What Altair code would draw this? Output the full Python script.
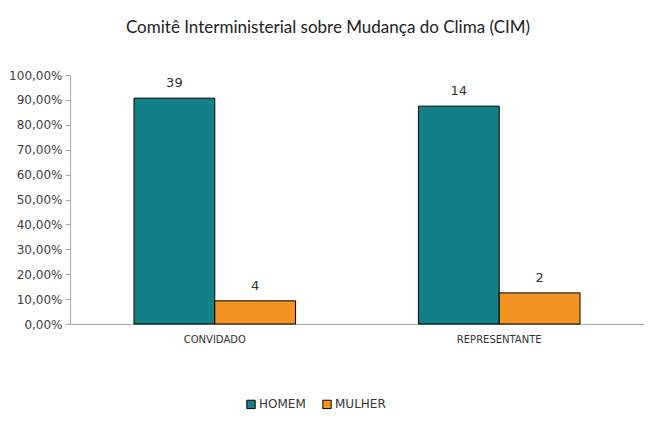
import altair as alt
import pandas as pd

categorias = ["CONVIDADO", "CONVIDADO", "REPRESENTANTE", "REPRESENTANTE"]
sexo = ["HOMEM", "MULHER", "HOMEM", "MULHER"]
percentual = [0.9070, 0.0930, 0.8750, 0.1250]
quantidade = [39, 4, 14, 2]

df = pd.DataFrame(
    {"categoria": categorias, "sexo": sexo, "pct": percentual, "n": quantidade}
)

cores = alt.Scale(domain=["HOMEM", "MULHER"], range=["#138087", "#F39322"])

x = alt.X(
    "categoria:N",
    title=None,
    scale=alt.Scale(paddingInner=0.432, paddingOuter=0.225),
    axis=alt.Axis(
        labelAngle=0,
        labelFontSize=10,
        labelColor="#333333",
        labelPadding=10,
        ticks=False,
        domainColor="#A6A6A6",
        labelFont="DejaVu Sans",
    ),
)
y = alt.Y(
    "pct:Q",
    title=None,
    scale=alt.Scale(domain=[0, 1]),
    axis=alt.Axis(
        values=[i / 10 for i in range(11)],
        labelExpr="replace(format(datum.value, '.2%'), '.', ',')",
        grid=False,
        labelFontSize=12,
        labelColor="#404040",
        labelFont="DejaVu Sans",
        domainColor="#A6A6A6",
        tickColor="#A6A6A6",
        tickSize=5,
        labelPadding=3,
    ),
)
xo = alt.XOffset("sexo:N", sort=["HOMEM", "MULHER"], scale=alt.Scale(paddingInner=0))

barras = (
    alt.Chart(df)
    .mark_bar(stroke="#000000", strokeWidth=1)
    .encode(
        x=x,
        xOffset=xo,
        y=y,
        color=alt.Color(
            "sexo:N",
            scale=cores,
            title=None,
            legend=alt.Legend(
                orient="none",
                legendX=175,
                legendY=323,
                direction="horizontal",
                symbolType="square",
                symbolSize=70,
                symbolStrokeColor="#000000",
                symbolStrokeWidth=1,
                labelFontSize=12,
                labelColor="#333333",
                labelFont="DejaVu Sans",
                columnPadding=14,
                labelOffset=2,
            ),
        ),
    )
)

rotulos = (
    alt.Chart(df)
    .mark_text(baseline="bottom", dy=-8, fontSize=13, color="#333333", font="DejaVu Sans")
    .encode(x=x, xOffset=xo, y=y, text="n:Q")
)

chart = (
    (barras + rotulos)
    .properties(
        width=574,
        height=249,
        autosize=alt.AutoSizeParams(type="none"),
        padding={"left": 62, "top": 67, "right": 4, "bottom": 95},
        title=alt.TitleParams(
            "Comitê Interministerial sobre Mudança do Clima (CIM)",
            anchor="middle",
            dx=-29,
            offset=32,
            fontSize=17,
            fontWeight="normal",
            font="Lato",
            color="#222222",
        ),
    )
    .configure_view(stroke=None)
)

chart.save("out.html", embed_options={"renderer": "svg", "actions": False})
